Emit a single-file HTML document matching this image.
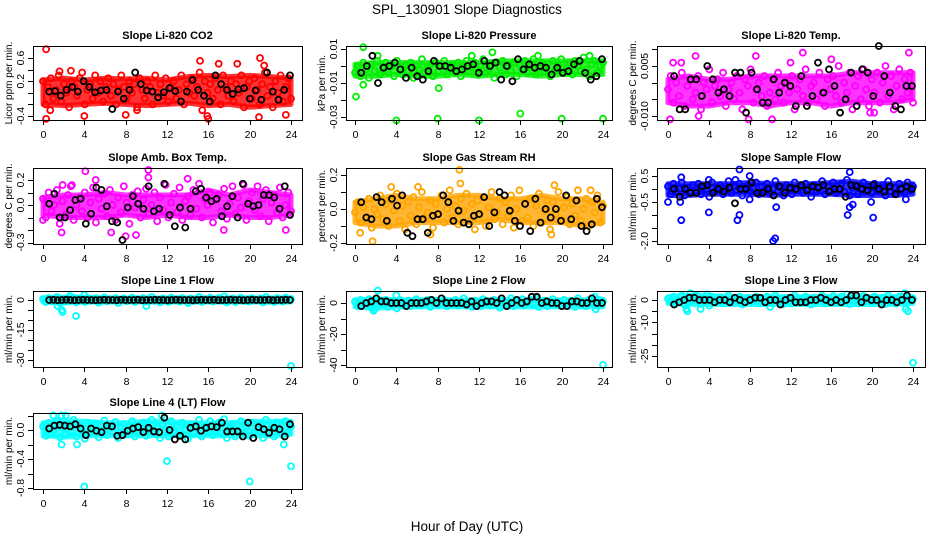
<!DOCTYPE html>
<html><head><meta charset="utf-8"><style>
html,body{margin:0;padding:0;background:#fff;}
svg{display:block;font-family:"Liberation Sans",sans-serif;}
.t{font-weight:bold;font-size:11px;}
.tk{font-size:10.5px;}
</style></head><body>
<svg id="chart" width="936" height="540" viewBox="0 0 936 540" xmlns="http://www.w3.org/2000/svg">
<text x="467" y="14" text-anchor="middle" font-size="13.5">SPL_130901  Slope Diagnostics</text>
<text x="467" y="531" text-anchor="middle" font-size="13.5">Hour of Day (UTC)</text>
</svg>
<script>
const xTickLabels=[0,4,8,12,16,20,24];
const bandHours=[0,2,4,6,8,10,12,14,16,18,20,22,24];
// ---- data ----
const co2BandLo=[-0.2,-0.22,-0.2,-0.18,-0.2,-0.22,-0.2,-0.18,-0.22,-0.2,-0.25,-0.22,-0.2];
const co2BandHi=[0.22,0.25,0.22,0.25,0.24,0.25,0.22,0.28,0.3,0.28,0.3,0.28,0.25];
const co2Main=[0.2,-0.2,0.1,0.25,-0.1,0.05,0.3,-0.15,0.15,0,-0.25,0.2,0.1,-0.05,0.25,0.35,-0.2,0.05,0.15,-0.1,0.3,0,0.2,-0.15,0.1,0.25,-0.05,0.15,-0.2,0.05,0.3,0.1,-0.1,0.2,0,0.15,-0.25,0.25,0.05,-0.1,0.2,0.1,-0.2,0.3,0,0.15,-0.05,0.25,-0.15,0.1,0.2,-0.1,0.05,0.3,-0.2,0.15,0,0.25,-0.05,0.1,0.35,-0.3,0.2,0,0.15,-0.1,0.25,0.05,-0.2,0.3,0.1,-0.05,0.2,-0.15,0.15,0,0.3,-0.25,0.1,0.2,-0.1,0.25,0.05,-0.2,0.15,0.35,-0.05,0.1,-0.25,0.2,0,0.3,-0.15,0.1,0.25,-0.1];
const co2OutT=[0.3,0.3,0.7,1.6,2.7,4,15.2,15.9,16,17,18.8,21,21.4,20.9,8,9.1,23.5];
const co2OutV=[0.75,-0.45,-0.3,0.37,0.38,-0.4,0.55,-0.4,-0.45,0.5,0.5,0.6,0.47,-0.42,-0.38,-0.3,-0.38];
const co2Black=[0.02,0.03,-0.05,0.05,0.1,0.02,0.2,0.1,0.01,0.04,0.05,-0.28,0.02,-0.1,0.05,0.35,0.15,0.04,0.02,-0.08,0.01,0.08,0.03,-0.15,0.02,0.22,0.05,-0.05,-0.15,0.3,0.15,0.05,-0.02,0.06,0.08,-0.1,0.04,-0.12,0.35,0.02,-0.12,0.05,0.3];
const presBandLo=[-0.006,-0.006,-0.005,-0.006,-0.006,-0.005,-0.006,-0.005,-0.005,-0.006,-0.005,-0.005,-0.005];
const presBandHi=[0.001,0.002,0.002,0.002,0.002,0.002,0.002,0.003,0.003,0.003,0.003,0.003,0.003];
const presMain=[-0.004,0,-0.006,0.002,-0.002,-0.007,0.001,-0.003,0.003,-0.005,-0.001,0.002,-0.004,0,-0.006,0.003,-0.002,-0.005,0.001,-0.003,0.002,-0.007,0,-0.002,0.004,-0.004,-0.001,0.001,-0.006,0.002,-0.003,0,0.003,-0.005,-0.002,0.001,-0.004,0.002,-0.006,0,0.003,-0.003,-0.001,0.002,-0.005,0,0.004,-0.004,-0.002,0.001,-0.007,0.002,-0.001,0.003,-0.005,0,-0.003,0.002,-0.006,0.001,-0.002,0.003,-0.004,0,0.004,-0.005,-0.001,0.002,-0.003,0.001,-0.006,0.003,-0.002,0,0.004,-0.004,-0.001,0.002,-0.005,0.003,0,-0.003,0.005,-0.002,-0.006,0.001,0.003,-0.004,0,0.002];
const presOutT=[0.1,0.8,0.8,4,8,12,16,20,24,8.1,2.2,13.3,11.3,17.7,22.7];
const presOutV=[-0.018,0.011,-0.011,-0.032,-0.031,-0.032,-0.028,-0.031,-0.031,-0.013,0.006,0.008,0.006,0.006,0.006];
const presBlack=[-0.004,0,0.006,-0.01,-0.001,0,0.002,-0.002,-0.007,-0.001,-0.006,-0.008,-0.003,0.003,0,0,-0.001,-0.003,-0.002,0,0.001,-0.004,0.003,0,0.002,-0.008,0,-0.009,0.004,-0.002,0.001,-0.001,0,-0.001,-0.005,-0.001,-0.004,-0.003,0.001,0.003,-0.004,-0.008,-0.006,0.004];
const tempBandLo=[-0.006,-0.007,-0.007,-0.006,-0.006,-0.007,-0.006,-0.006,-0.007,-0.006,-0.006,-0.006,-0.005];
const tempBandHi=[0.001,0.002,0.001,0.001,0.002,0.002,0.002,0.002,0.002,0.003,0.003,0.003,0.003];
const tempMain=[-0.002,0.002,-0.006,0,-0.004,0.003,-0.007,-0.001,0.001,-0.005,-0.003,0.002,-0.008,0,-0.002,0.004,-0.006,-0.001,0.001,-0.004,0.003,-0.007,-0.002,0,-0.005,0.002,-0.003,-0.008,0.001,-0.001,0.004,-0.006,-0.002,0,-0.004,0.002,-0.007,-0.003,0.001,-0.005,0.003,-0.001,-0.006,0,-0.003,0.002,-0.008,-0.002,0.001,-0.004,0.004,-0.006,-0.001,0,-0.005,0.003,-0.003,-0.007,0.001,-0.002,0.002,-0.004,0.005,-0.006,0,-0.003,0.003,-0.008,-0.001,0.002,-0.005,0.004,-0.002,-0.007,0.001,-0.003,0.003,-0.006,0,0.005,-0.004,0.002,-0.008,-0.001,0.004,-0.005,0.001,-0.003,0.003,-0.006];
const tempOutT=[0.2,3,10.2,2.7,8.6,13.2,23.6,16,0.5,1.3,12,19.8,20.2,7.9];
const tempOutV=[-0.011,-0.010,-0.011,0.008,0.008,0.009,0.009,0.007,0.006,0.006,0.006,-0.009,-0.009,-0.011];
const tempBlack=[0.002,-0.008,-0.008,0.001,0.001,-0.004,0.005,0.001,-0.003,-0.002,-0.004,0.003,0.003,-0.009,0.003,-0.002,-0.006,-0.006,0.001,-0.003,0,-0.001,-0.007,0.002,-0.007,-0.004,0.006,-0.003,0.004,-0.001,-0.009,-0.005,0.003,-0.007,0.004,0.003,-0.004,0.011,0.002,-0.003,-0.007,-0.008,-0.001,-0.001];
const ambBandLo=[-0.08,-0.1,-0.1,-0.1,-0.08,-0.1,-0.08,-0.1,-0.1,-0.08,-0.1,-0.1,-0.08];
const ambBandHi=[0.06,0.08,0.08,0.1,0.08,0.08,0.08,0.08,0.12,0.08,0.12,0.1,0.08];
const ambMain=[0.05,-0.1,0.1,-0.05,0,0.12,-0.15,0.03,-0.08,0.08,0.15,-0.12,0,0.06,-0.05,0.1,-0.1,0.02,0.14,-0.14,0.05,-0.03,0.09,-0.09,0.12,0,-0.12,0.06,-0.06,0.15,0.02,-0.15,0.08,-0.02,0.11,-0.1,0.04,0.13,-0.07,0,0.1,-0.13,0.06,-0.04,0.16,-0.1,0.02,0.09,-0.06,0.14,-0.12,0.03,0.07,-0.08,0.12,-0.03,0.17,-0.1,0.05,0,0.1,-0.14,0.04,0.08,-0.05,0.13,-0.11,0.01,0.15,-0.07,0.06,-0.02,0.16,-0.12,0.03,0.1,-0.04,0.15,-0.09,0.05,0.12,-0.13,0.02,0.08,-0.06,0.14,-0.1,0,0.1,-0.05];
const ambOutT=[4.1,10.2,10.2,14,1.8,8,23.5,17.5,0,2.8,5.1,1.9,9,6.6];
const ambOutV=[0.27,0.28,0.22,0.21,-0.22,-0.25,-0.2,-0.2,-0.12,0.16,0.2,0.16,-0.24,-0.22];
const ambBlack=[0.01,0.09,-0.1,-0.1,-0.04,0.04,0.05,-0.15,-0.07,0.14,0.12,-0.01,-0.13,-0.14,-0.28,-0.02,0.07,0.01,-0.03,0.15,-0.05,-0.03,0.17,-0.08,-0.17,-0.02,-0.18,-0.03,0.11,0.13,0.06,0.03,0.05,-0.09,-0.01,0.07,-0.1,0.17,0.01,-0.01,0,0.08,0.08,0.06,-0.03,0.15,-0.08];
const rhBandLo=[-0.08,-0.1,-0.1,-0.08,-0.08,-0.08,-0.08,-0.06,-0.08,-0.08,-0.08,-0.1,-0.08];
const rhBandHi=[0.04,0.06,0.08,0.06,0.06,0.08,0.08,0.06,0.06,0.08,0.06,0.06,0.04];
const rhMain=[-0.02,0.04,-0.08,0.01,-0.05,0.06,-0.11,0,-0.03,0.08,-0.06,0.03,-0.1,0.05,-0.01,0.09,-0.07,0.02,-0.12,0.04,-0.04,0.07,-0.09,0.01,0.1,-0.06,-0.02,0.05,-0.11,0.03,-0.03,0.08,-0.08,0,0.11,-0.05,0.02,-0.09,0.06,-0.01,0.09,-0.07,0.03,-0.12,0.05,-0.03,0.07,-0.1,0.01,0.1,-0.06,-0.02,0.06,-0.09,0.04,-0.04,0.08,-0.11,0,0.11,-0.07,0.03,-0.05,0.06,-0.1,0.02,0.09,-0.08,-0.01,0.05,-0.12,0.04,-0.03,0.1,-0.06,0.01,0.07,-0.09,0.03,-0.04,0.11,-0.07,0,0.06,-0.1,0.04,-0.02,0.08,-0.08,0.02];
const rhOutT=[10.1,1.7,10.2,19.3,0.5,3.5,6.1,19,22.8,7.3];
const rhOutV=[0.23,-0.19,0.15,0.14,-0.14,0.13,0.13,-0.15,0.11,-0.15];
const rhBlack=[0.04,-0.05,-0.06,0.07,0.04,-0.07,0.06,0.02,0.08,-0.14,-0.16,-0.06,-0.06,-0.14,-0.04,-0.03,0.08,0.04,-0.07,-0.01,-0.08,-0.09,-0.04,-0.03,0.07,-0.1,-0.02,0.1,0.08,-0.01,-0.07,-0.1,0.03,-0.13,0.06,-0.08,0,-0.05,0,-0.07,0.08,-0.06,0.05,-0.1,-0.13,-0.09,0.06,0.01];
const flowBandLo=[-0.25,-0.25,-0.2,-0.2,-0.2,-0.25,-0.2,-0.2,-0.2,-0.25,-0.25,-0.25,-0.2];
const flowBandHi=[0.2,0.2,0.2,0.2,0.25,0.2,0.2,0.2,0.25,0.3,0.2,0.2,0.2];
const flowMain=[0.1,-0.2,0.2,-0.1,0,0.25,-0.25,0.05,-0.15,0.15,-0.05,0.2,-0.2,0.1,0,-0.3,0.25,-0.1,0.05,0.15,-0.2,0,0.3,-0.15,0.1,-0.05,0.2,-0.25,0.05,0.15,-0.1,0,0.25,-0.2,0.1,-0.05,0.2,-0.15,0,0.3,-0.1,0.05,-0.25,0.15,0,-0.2,0.25,-0.05,0.1,-0.15,0.2,0,-0.3,0.15,-0.1,0.05,0.3,-0.2,0.1,-0.05,0.25,-0.15,0,0.2,-0.1,0.35,-0.25,0.05,0.15,-0.2,0,0.25,-0.1,0.1,-0.15,0.2,-0.05,0,0.15,-0.25,0.3,-0.1,0.05,-0.2,0.2,0,-0.15,0.25,-0.05,0.1];
const flowOutT=[0,1.3,1.3,1.2,4,4,6.8,7,7,8,10.3,10.5,10.6,17.8,17.8,17.6,18.1,20.1,19.9,23.3,8,6.6];
const flowOutV=[-0.5,0.45,-1.2,-0.5,-0.9,0.35,-1.2,-1.0,0.75,0.5,-2.0,-1.9,-0.7,0.65,-0.7,-1.0,-0.6,-1.1,-0.5,-0.4,-0.4,0.35];
const flowBlack=[0,-0.3,0,-0.15,-0.15,0.1,0.15,-0.15,0,-0.1,0.05,-0.55,0,0,0.25,-0.15,-0.15,0,-0.25,0.1,-0.15,0.05,0,0.15,-0.05,0.1,0.05,0.15,-0.1,0,0,-0.3,0.15,0.1,0,-0.05,0.15,0,-0.1,0.1,-0.2,0,0.1,0];
const l1BandLo=[-1,-1.5,-1,-1,-1,-1,-1,-1,-1,-1,-1,-1,-1];
const l1BandHi=[1,1.5,1.5,1,1,1,1,1,1,1,1,1,1];
const l1Main=[0.5,-1,1,-0.5,0,1.5,-1.5,0.3,-0.8,0.8,-0.2,1.2,-1.2,0.6,0,-1,1,-0.5,0.2,0.9,-1.3,0,1.3,-0.7,0.5,-0.3,1,-1.5,0.3,0.8,-0.6,0,1.2,-1,0.5,-0.2,1,-0.8,0,1.5,-0.5,0.3,-1.2,0.8,0,-1,1.2,-0.3,0.5,-0.8,1,0,-1.5,0.8,-0.5,0.3,1.5,-1,0.5,-0.3,1.2,-0.8,0,1,-0.5,1.8,-1.2,0.3,0.8,-1,0,1.2,-0.5,0.5,-0.8,1,-0.3,0,0.8,-1.2,1.5,-0.5,0.3,-1,1,0,-0.8,1.2,-0.3,0.5];
const l1OutT=[1.8,1.9,3.2,4,10,24,1.4,2.6];
const l1OutV=[-5,-6,-8,2.5,-3,-33,-3,2];
const l1Black=[0,0.1,-0.1,0,0.1,0,-0.1,0,0.1,0,0,-0.1,0,0.1,0,0,-0.1,0.1,0,0,0,0.1,-0.1,0,0,0.1,0,0,-0.1,0,0.1,0,0,0,-0.1,0,0.1,0,0,0.1,-0.1,0,0,0.1,0,0,-0.1,0,0.1,0,0,0,0.1,-0.1,0,0,0.1,0];
const l2BandLo=[-2.5,-3.5,-2.5,-2.5,-2.5,-2.5,-2.5,-2.5,-2.5,-2.5,-2.5,-2.5,-2.5];
const l2BandHi=[2,2.5,2,2,2,2,2,2,2,2,2,2,2.5];
const l2Main=[1,-2,2,-1,0,2.5,-3,0.5,-1.5,1.5,-0.5,2,-2.5,1,0,-3.5,2,-1,0.5,1.5,-2,0,2.5,-1.5,1,-0.5,2,-2.5,0.5,1.5,-1,0,2,-2,1,-0.5,2,-1.5,0,3,-1,0.5,-2.5,1.5,0,-2,2.5,-0.5,1,-1.5,2,0,-3,1.5,-1,0.5,3,-2,1,-0.5,2.5,-1.5,0,2,-1,3,-2.5,0.5,1.5,-2,0,2.5,-1,1,-1.5,2,-0.5,0,1.5,-2.5,3,-1,0.5,-2,2,0,-1.5,2.5,-0.5,1];
const l2OutT=[2.2,4,1.8,1.9,24,23.3,23.2];
const l2OutV=[8,5,-5,-4,-40,-4,4];
const l2Black=[-2,0,1,3,1,1,0,0,0,-2,0,0,0,1,2,0,3,0,0,0,0,-1,1,-2,0,1,1,0,3,-2,0,2,0,1,4,4,0,1,0,0,-2,-2,1,1,0,0,3,0,0];
const l3BandLo=[-1.5,-2,-2,-2,-2,-2,-2,-2,-2,-2,-2,-2,-1.5];
const l3BandHi=[1.5,2,2,1.5,1.5,1.5,1.5,1.5,1.5,1.5,1.5,1.5,1.5];
const l3Main=[0.5,-1,1.5,-1.5,0,2,-2,0.3,-0.8,1,-0.3,1.5,-1.8,0.6,0,-2.5,1.5,-0.6,0.2,1.2,-1.5,0,2,-1,0.5,-0.3,1.5,-2,0.3,1,-0.8,0,1.5,-1.5,0.5,-0.3,1.5,-1,0,2,-0.6,0.3,-1.8,1,0,-1.5,2,-0.3,0.5,-1,1.5,0,-2,1,-0.6,0.3,2,-1.5,0.5,-0.3,1.8,-1,0,1.5,-0.6,2.5,-1.8,0.3,1,-1.5,0,1.8,-0.6,0.6,-1,1.5,-0.3,0,1,-1.8,2,-0.6,0.3,-1.5,1.5,0,-1,1.8,-0.3,0.6];
const l3OutT=[1.8,1.9,2.2,3.2,3.8,10,23.2,23.3,23.5,24,2.8];
const l3OutV=[-4,-5,3,-4,2.5,-3,3,-4,-5,-28,2];
const l3Black=[-2,-1,0,1,1,0,0,0,-1,0,0,-1,1,0,-1,0,1,1,-1,0,0,-2,0,1,-1,-1,-1,0,0,1,0,-1,0,-1,0,2,2,-1,1,0,0,-2,0,0,-1,0,2,0];
const l4BandLo=[-0.08,-0.1,-0.08,-0.08,-0.08,-0.08,-0.08,-0.08,-0.08,-0.08,-0.08,-0.08,-0.06];
const l4BandHi=[0.1,0.13,0.12,0.1,0.1,0.12,0.12,0.1,0.1,0.1,0.12,0.12,0.12];
const l4Main=[0.05,-0.08,0.1,-0.05,0,0.12,-0.1,0.03,-0.06,0.08,-0.02,0.14,-0.09,0.05,0,-0.12,0.1,-0.04,0.02,0.09,-0.1,0,0.13,-0.07,0.05,-0.03,0.11,-0.11,0.03,0.08,-0.06,0,0.12,-0.09,0.05,-0.02,0.1,-0.08,0,0.14,-0.05,0.03,-0.11,0.08,0,-0.09,0.12,-0.03,0.05,-0.07,0.1,0,-0.12,0.08,-0.05,0.03,0.14,-0.09,0.05,-0.03,0.12,-0.07,0,0.1,-0.05,0.15,-0.11,0.03,0.08,-0.09,0,0.12,-0.05,0.05,-0.08,0.1,-0.03,0,0.08,-0.11,0.14,-0.05,0.03,-0.09,0.1,0,-0.07,0.12,-0.03,0.05];
const l4OutT=[1,1.8,1.8,3.3,4,12,20,24,23.3,11.5,2.2];
const l4OutV=[0.2,-0.2,0.2,-0.2,-0.78,-0.43,-0.71,-0.5,-0.2,0.2,0.2];
const l4Black=[0.02,0.06,0.07,0.06,0.05,0.08,0.02,-0.07,0.02,-0.01,-0.03,0.06,0.05,-0.08,-0.07,-0.01,0.02,0.04,-0.03,0.03,-0.02,-0.03,0.17,0,-0.13,-0.08,-0.13,0.03,0.05,-0.01,0.03,0.05,0.04,0.1,-0.02,-0.02,-0.02,-0.09,0.1,-0.11,0.04,0.01,-0.04,0.03,0.01,-0.09,0.08];

const panels=[
 {id:'co2',title:'Slope Li-820 CO2',ylab:'Licor ppm per min.',col:0,row:0,ya:0.6,pa:58,yb:-0.4,pb:116,ticks:[-0.4,-0.2,0,0.2,0.4,0.6],labels:['-0.4','0.2','0.6'],color:'#ff0000',main:co2Main,outT:co2OutT,outV:co2OutV,black:co2Black,lo:co2BandLo,hi:co2BandHi},
 {id:'pressure',title:'Slope Li-820 Pressure',ylab:'kPa per min.',col:1,row:0,ya:0.01,pa:49,yb:-0.03,pb:117,ticks:[0.01,0,-0.01,-0.02,-0.03],labels:['0.01','-0.01','-0.03'],color:'#00ee00',main:presMain,outT:presOutT,outV:presOutV,black:presBlack,lo:presBandLo,hi:presBandHi},
 {id:'temp',title:'Slope Li-820 Temp.',ylab:'degrees C per min.',col:2,row:0,ya:0.005,pa:66,yb:-0.010,pb:116,ticks:[0.01,0.005,0,-0.005,-0.01],labels:['0.005','-0.010'],color:'#ff00ff',main:tempMain,outT:tempOutT,outV:tempOutV,black:tempBlack,lo:tempBandLo,hi:tempBandHi},
 {id:'ambtemp',title:'Slope Amb. Box Temp.',ylab:'degrees C per min.',col:0,row:1,ya:0.2,pa:180,yb:-0.3,pb:242.5,ticks:[0.2,0.1,0,-0.1,-0.2,-0.3],labels:['0.2','0.0','-0.3'],color:'#ff00ff',main:ambMain,outT:ambOutT,outV:ambOutV,black:ambBlack,lo:ambBandLo,hi:ambBandHi},
 {id:'rh',title:'Slope Gas Stream RH',ylab:'percent per min.',col:1,row:1,ya:0.2,pa:175,yb:-0.2,pb:243,ticks:[0.2,0.1,0,-0.1,-0.2],labels:['0.2','0.0','-0.2'],color:'#ffa500',main:rhMain,outT:rhOutT,outV:rhOutV,black:rhBlack,lo:rhBandLo,hi:rhBandHi},
 {id:'sampleflow',title:'Slope Sample Flow',ylab:'ml/min per min.',col:2,row:1,ya:0.5,pa:176,yb:-2.0,pb:241,ticks:[0.5,0,-0.5,-1,-1.5,-2],labels:['0.5','-0.5','-2.0'],color:'#0000ff',main:flowMain,outT:flowOutT,outV:flowOutV,black:flowBlack,lo:flowBandLo,hi:flowBandHi},
 {id:'line1',title:'Slope Line 1 Flow',ylab:'ml/min per min.',col:0,row:2,ya:0,pa:300,yb:-30,pb:360,ticks:[0,-5,-10,-15,-20,-25,-30],labels:['0','-15','-30'],color:'#00ffff',main:l1Main,outT:l1OutT,outV:l1OutV,black:l1Black,lo:l1BandLo,hi:l1BandHi},
 {id:'line2',title:'Slope Line 2 Flow',ylab:'ml/min per min.',col:1,row:2,ya:0,pa:303,yb:-40,pb:365,ticks:[0,-10,-20,-30,-40],labels:['0','-20','-40'],color:'#00ffff',main:l2Main,outT:l2OutT,outV:l2OutV,black:l2Black,lo:l2BandLo,hi:l2BandHi},
 {id:'line3',title:'Slope Line 3 Flow',ylab:'ml/min per min.',col:2,row:2,ya:0,pa:300,yb:-25,pb:356,ticks:[0,-5,-10,-15,-20,-25],labels:['0','-10','-25'],color:'#00ffff',main:l3Main,outT:l3OutT,outV:l3OutV,black:l3Black,lo:l3BandLo,hi:l3BandHi},
 {id:'line4',title:'Slope Line 4 (LT) Flow',ylab:'ml/min per min.',col:0,row:3,ya:0,pa:430,yb:-0.8,pb:488,ticks:[0.2,0,-0.2,-0.4,-0.6,-0.8],labels:['0.0','-0.4','-0.8'],color:'#00ffff',main:l4Main,outT:l4OutT,outV:l4OutV,black:l4Black,lo:l4BandLo,hi:l4BandHi}
];
const colBox=[[33,302,43,291],[346,612,355,603],[657,925,668,913]];
const rowBox=[[46,120],[168,244],[291,367],[413,489]];
const NS='http://www.w3.org/2000/svg';
const svg=document.getElementById('chart');
function mk(tag,attrs,parent){const e=document.createElementNS(NS,tag);for(const k in attrs)e.setAttribute(k,attrs[k]);(parent||svg).appendChild(e);return e;}
panels.forEach(p=>{
 const [L,R,x0,x24]=colBox[p.col];const [T,B]=rowBox[p.row];
 const g=mk('g',{});
 
 
 const xs=h=>x0+(x24-x0)*h/24;
 const ys=v=>p.pa+(v-p.ya)*(p.pb-p.pa)/(p.yb-p.ya);
 // dense-cloud band
 let d='';
 bandHours.forEach((h,i)=>{d+=(i?'L':'M')+xs(h).toFixed(1)+' '+ys(p.hi[i]).toFixed(1);});
 for(let i=bandHours.length-1;i>=0;i--)d+='L'+xs(bandHours[i]).toFixed(1)+' '+ys(p.lo[i]).toFixed(1);
 d+='Z';
 const band=mk('path',{d:d,fill:p.color,'fill-opacity':0.8,stroke:p.color,'stroke-width':5,'stroke-linejoin':'round','stroke-opacity':0.8},g);
 
 
 const pts=mk('g',{fill:'none'},g);
 
 
 const n=p.main.length;
 p.main.forEach((v,i)=>{const c=mk('circle',{cx:xs(i*24/(n-1)),cy:ys(v),r:3,stroke:p.color,'stroke-width':1.8},pts);
  });
 p.outV.forEach((v,i)=>{const c=mk('circle',{cx:xs(p.outT[i]),cy:ys(v),r:3,stroke:p.color,'stroke-width':1.8},pts);
  });
 const nb=p.black.length;
 p.black.forEach((v,i)=>{const c=mk('circle',{cx:xs(0.6+i*23.3/(nb-1)),cy:ys(v),r:3,stroke:'#000','stroke-width':1.8},pts);
  });
 const box=mk('rect',{x:L+0.5,y:T+0.5,width:R-L,height:B-T,fill:'none',stroke:'#000','stroke-width':1},g);
 
 const tt=mk('text',{x:(L+R)/2,y:T-7,'text-anchor':'middle',class:'t'},g);tt.textContent=p.title;
 
 const xa=mk('g',{},g);
 xTickLabels.forEach(h=>{const x=Math.round(xs(h))+0.5;mk('line',{x1:x,x2:x,y1:B,y2:B+5,stroke:'#000'},xa);
  const t=mk('text',{x:x,y:B+18,'text-anchor':'middle',class:'tk'},xa);t.textContent=h;});
 const ya=mk('g',{},g);
 p.ticks.forEach(v=>{const y=Math.round(ys(v))+0.5;mk('line',{x1:L-5,x2:L,y1:y,y2:y,stroke:'#000'},ya);});
 p.labels.forEach(s=>{const y=ys(parseFloat(s));const t=mk('text',{x:L-9,y:y,'text-anchor':'middle',class:'tk',transform:'rotate(-90 '+(L-9)+' '+y+')'},ya);t.textContent=s;});
 const yl=mk('text',{x:L-21,y:(T+B)/2,'text-anchor':'middle','font-size':'10px',transform:'rotate(-90 '+(L-21)+' '+(T+B)/2+')'},g);yl.textContent=p.ylab;
 
});
</script>
</body></html>
